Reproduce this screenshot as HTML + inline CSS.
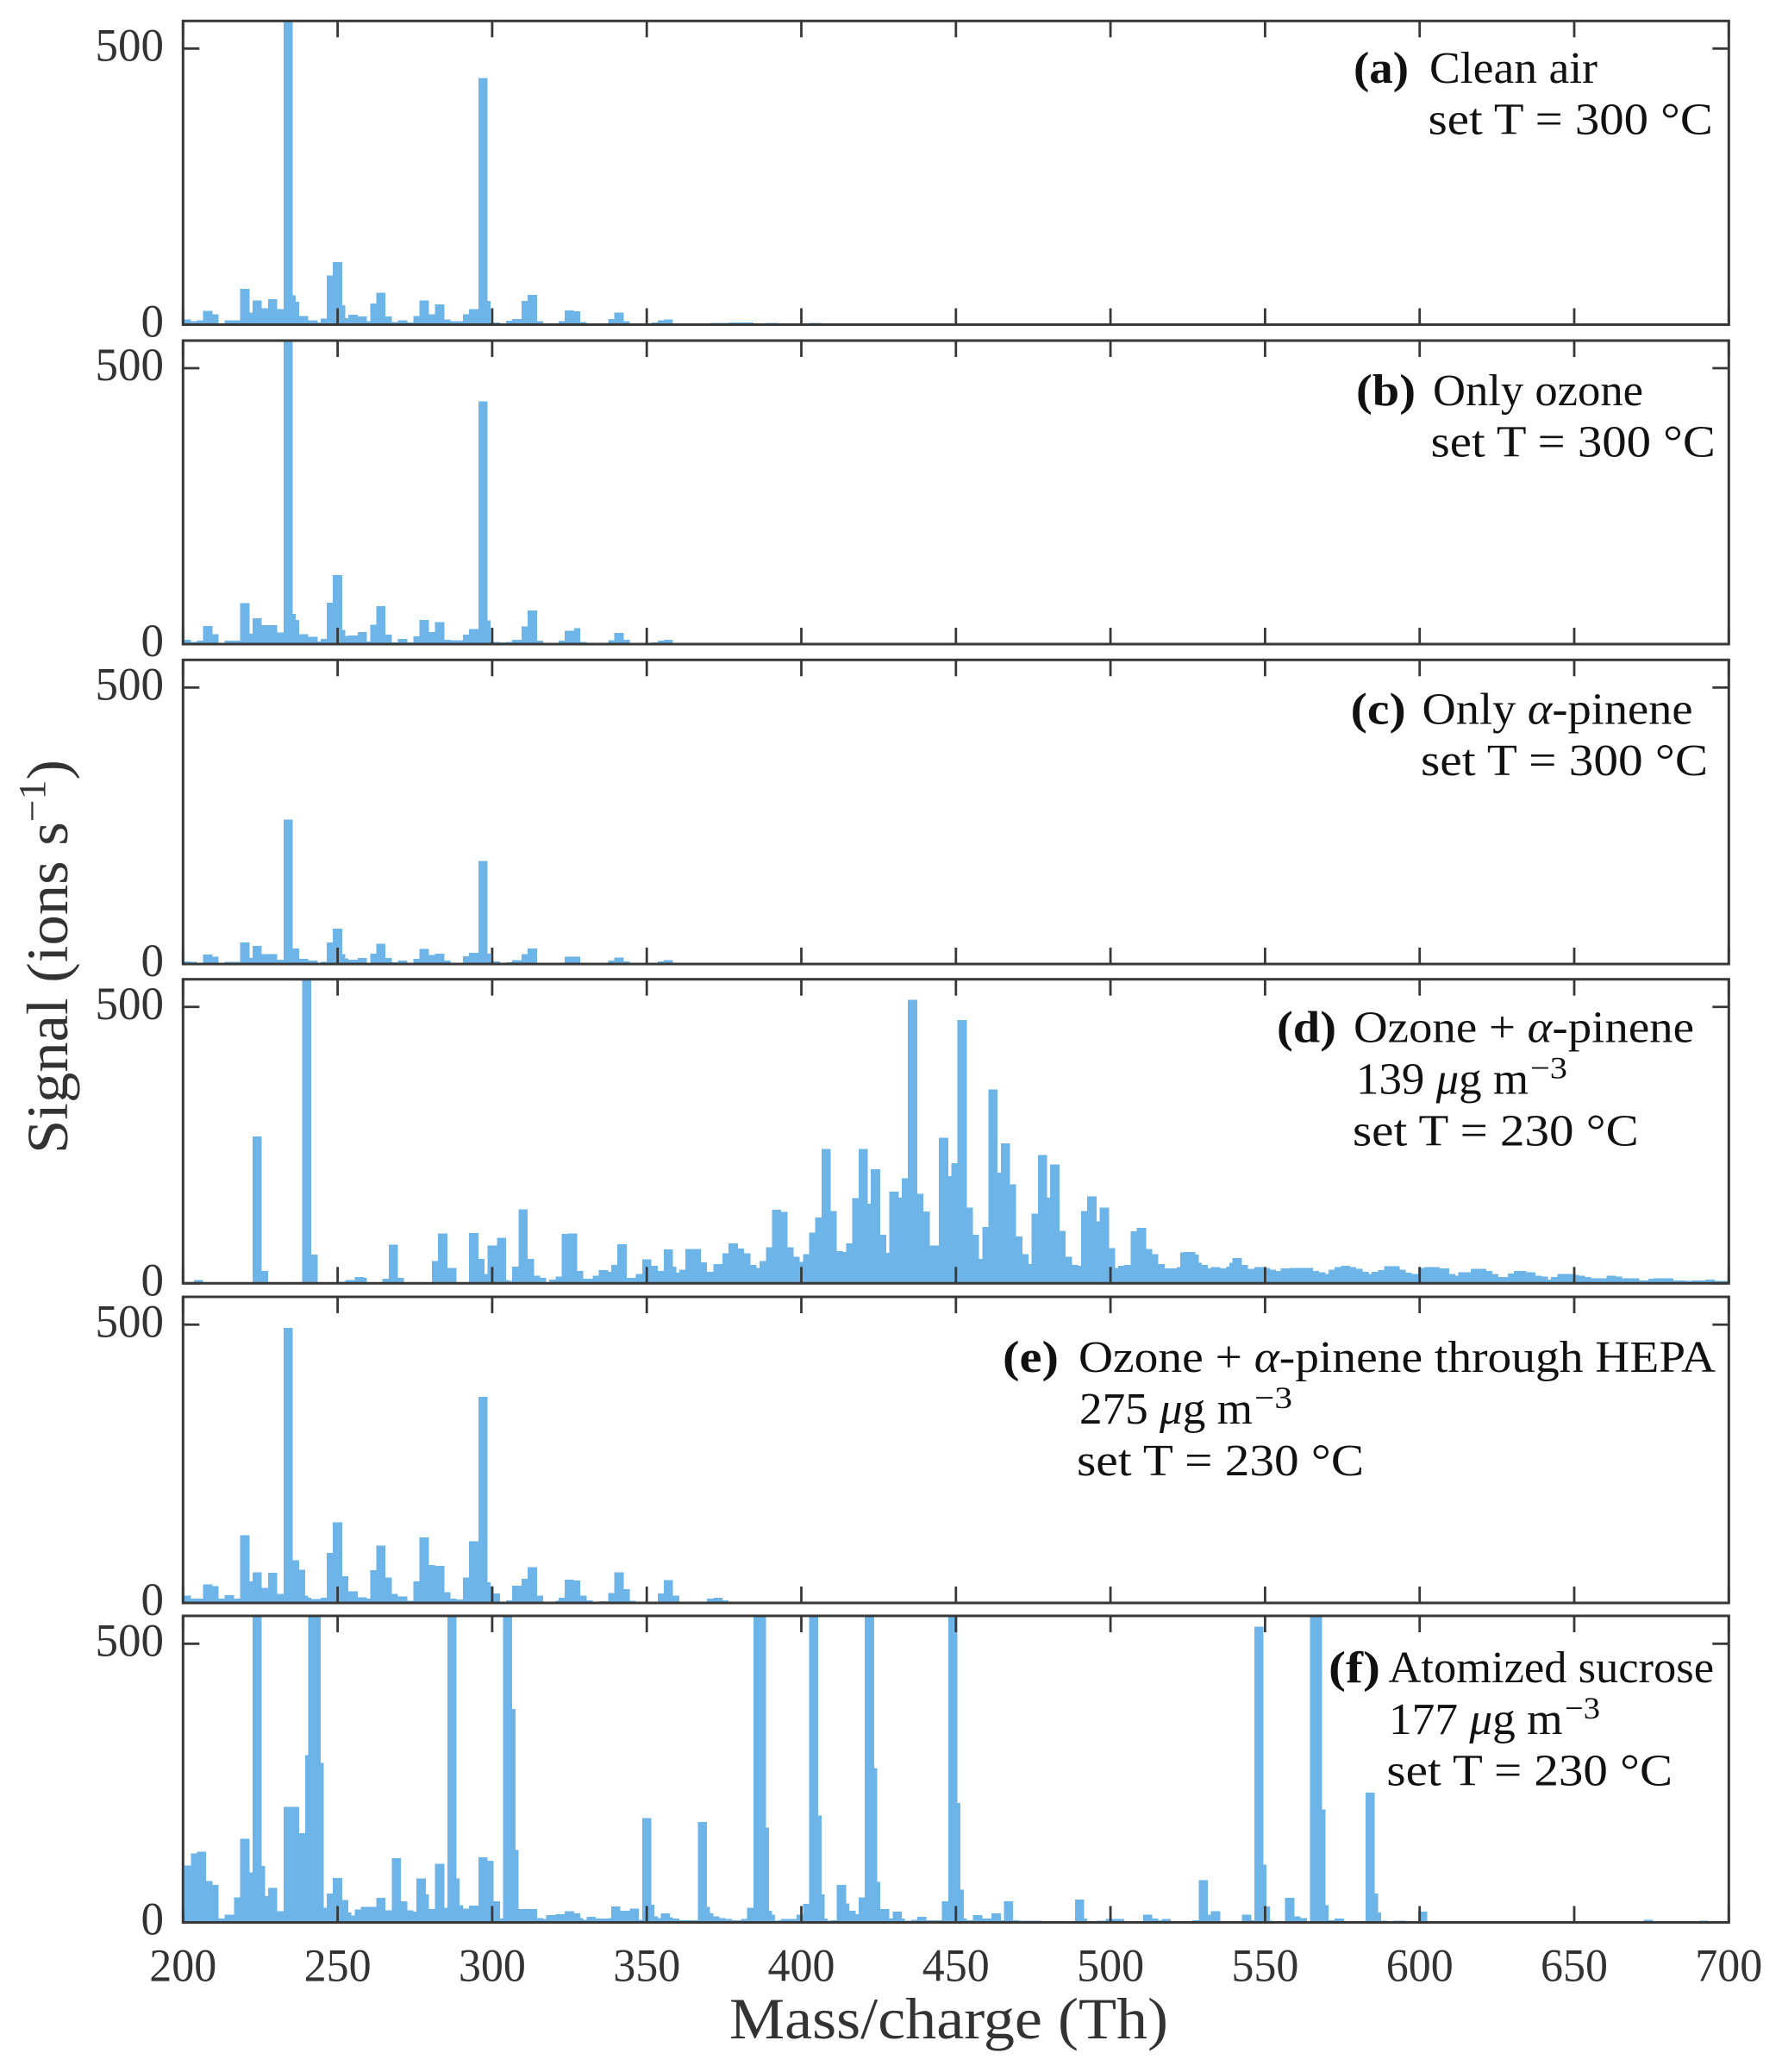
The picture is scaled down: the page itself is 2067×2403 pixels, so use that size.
<!DOCTYPE html>
<html lang="en">
<head>
<meta charset="utf-8">
<title>Mass spectra panels</title>
<style>
html,body{margin:0;padding:0;background:#fff;}
svg{display:block;}
text{font-family:"Liberation Serif","DejaVu Serif",serif;}
.note{font-size:52px;fill:#111;}
.sup{font-size:36px;fill:#111;}
.axis-title{font-size:68px;fill:#333;}
.tick-label{font-size:54px;fill:#333;}
</style>
</head>
<body>
<svg id="figure" xmlns="http://www.w3.org/2000/svg" width="2067" height="2403" viewBox="0 0 2067 2403">
<rect width="2067" height="2403" fill="#fff"/>
<g id="panels"></g>

<text class="axis-title" x="846" y="2364" textLength="509" lengthAdjust="spacingAndGlyphs">Mass/charge (Th)</text>
<text class="axis-title" transform="translate(78,1338) rotate(-90)" textLength="457" lengthAdjust="spacingAndGlyphs">Signal (ions s<tspan font-size="44" dy="-26">−1</tspan><tspan dy="26">)</tspan></text>

<g>
<text class="note" font-weight="bold" x="1570" y="96" textLength="64" lengthAdjust="spacingAndGlyphs">(a)</text>
<text class="note" x="1658" y="96" textLength="195" lengthAdjust="spacingAndGlyphs">Clean air</text>
<text class="note" x="1656.7" y="155.7" textLength="330" lengthAdjust="spacingAndGlyphs">set T = 300 °C</text>
</g>
<g>
<text class="note" font-weight="bold" x="1573" y="470" textLength="69" lengthAdjust="spacingAndGlyphs">(b)</text>
<text class="note" x="1662" y="470" textLength="244" lengthAdjust="spacingAndGlyphs">Only ozone</text>
<text class="note" x="1659.7" y="529.5" textLength="330" lengthAdjust="spacingAndGlyphs">set T = 300 °C</text>
</g>
<g>
<text class="note" font-weight="bold" x="1566.7" y="839.5" textLength="64" lengthAdjust="spacingAndGlyphs">(c)</text>
<text class="note" x="1649.5" y="839.5" textLength="314" lengthAdjust="spacingAndGlyphs">Only <tspan font-style="italic">α</tspan>-pinene</text>
<text class="note" x="1648" y="899" textLength="333" lengthAdjust="spacingAndGlyphs">set T = 300 °C</text>
</g>
<g>
<text class="note" font-weight="bold" x="1481" y="1208.3" textLength="69" lengthAdjust="spacingAndGlyphs">(d)</text>
<text class="note" x="1570" y="1208.3" textLength="395" lengthAdjust="spacingAndGlyphs">Ozone + <tspan font-style="italic">α</tspan>-pinene</text>
<text class="note" x="1573" y="1268.3" textLength="200" lengthAdjust="spacingAndGlyphs">139 <tspan font-style="italic">μ</tspan>g m</text>
<text class="sup" x="1775" y="1250.5" textLength="43" lengthAdjust="spacingAndGlyphs">−3</text>
<text class="note" x="1569" y="1328.3" textLength="331.6" lengthAdjust="spacingAndGlyphs">set T = 230 °C</text>
</g>
<g>
<text class="note" font-weight="bold" x="1163" y="1591" textLength="65" lengthAdjust="spacingAndGlyphs">(e)</text>
<text class="note" x="1251" y="1591" textLength="739" lengthAdjust="spacingAndGlyphs">Ozone + <tspan font-style="italic">α</tspan>-pinene through HEPA</text>
<text class="note" x="1252" y="1651" textLength="201" lengthAdjust="spacingAndGlyphs">275 <tspan font-style="italic">μ</tspan>g m</text>
<text class="sup" x="1455" y="1633" textLength="44" lengthAdjust="spacingAndGlyphs">−3</text>
<text class="note" x="1249" y="1711" textLength="333" lengthAdjust="spacingAndGlyphs">set T = 230 °C</text>
</g>
<g>
<text class="note" font-weight="bold" x="1541" y="1951" textLength="60" lengthAdjust="spacingAndGlyphs">(f)</text>
<text class="note" x="1610.5" y="1951" textLength="377.5" lengthAdjust="spacingAndGlyphs">Atomized sucrose</text>
<text class="note" x="1611" y="2011" textLength="201.6" lengthAdjust="spacingAndGlyphs">177 <tspan font-style="italic">μ</tspan>g m</text>
<text class="sup" x="1815" y="1993" textLength="41" lengthAdjust="spacingAndGlyphs">−3</text>
<text class="note" x="1608.4" y="2070.7" textLength="331.6" lengthAdjust="spacingAndGlyphs">set T = 230 °C</text>
</g>
</svg>

<script>
// ---- chart data (bin upper edges in Th, signal in ions/s) ----
const xTickLabels = [200,250,300,350,400,450,500,550,600,650,700];
const yTickLabels = [0,500];
const panelIds = ['a','b','c','d','e','f'];

const cleanEdges = [
202.5,204.5,206.5,209.5,211.5,213.5,218.5,221.5,222.5,225.5,
227.5,230.5,232.5,235.5,236.5,237.5,240.5,243.5,244.5,246.5,
248.5,251.5,252.5,253.5,256.5,259.5,260.5,262.5,265.5,267.5,
269.5,272.5,274.5,276.5,279.5,281.5,284.5,286.5,290.5,292.5,
295.5,298.5,299.5,302.5,304.5,306.5,309.5,311.5,314.5,316.5,
321.5,323.5,326.5,328.5,330.5,337.5,339.5,342.5,344.5,351.5,
353.5,355.5,358.5,370.5,376.5,384.5,388.5,392.5,402.5,406.5,
700];
const signalA = [
9,6,8,25,19,0,8,65,22,44,
30,46,28,600,53,41,16,8,4,11,
89,113,35,12,18,15,6,38,58,15,
5,8,4,16,44,19,37,9,6,19,
28,447,43,4,2,7,10,43,54,6,
2,6,26,24,5,2,10,22,6,2,
4,8,9,1,3,4,2,3,1,3,
0.5];
const signalB = [
8,4,6,33,18,0,6,74,19,47,
34,34,21,600,55,44,18,13,5,9,
75,125,26,15,16,22,5,35,69,17,
3,9,3,14,44,22,40,8,7,17,
27,440,43,4,3,4,8,32,61,6,
2,6,24,29,4,2,7,20,8,1,
3,6,8,0.5,0.5,0.5,0.5,0.5,0.5,0.5,
0.5];
const signalC = [
5,4,0.5,17,13,0.5,4,39,11,33,
18,18,8,261,28,28,9,6,0.5,4,
39,64,18,10,8,11,2,19,37,11,
3,6,2,9,27,16,19,6,2,14,
20,186,19,5,0.5,3,7,18,28,1,
1,1,13,13,0.5,0.5,6,12,5,0.5,
2,5,7,0.5,0.5,0.5,0.5,0.5,0.5,0.5,
0.5];
const edgesD = [
203.5,206.5,217.5,220.5,222.5,225.5,227.5,238.5,241.5,243.5,
250.5,252.5,255.5,258.5,259.5,264.5,266.5,269.5,271.5,280.5,
282.5,285.5,288.5,292.5,295.5,297.5,298.5,301.5,304.5,305.5,
306.5,308.5,311.5,313.5,315.5,317.5,318.5,320.5,322.5,324.5,
327.5,329.5,332.5,334.5,337.5,338.5,340.5,343.5,346.5,348.5,
351.5,353.5,355.5,358.5,359.5,360.5,362.5,367.5,369.5,371.5,
374.5,376.5,379.5,381.5,383.5,385.5,386.5,388.5,390.5,393.5,
395.5,397.5,399.5,400.5,402.5,404.5,406.5,409.5,411.5,413.5,
414.5,416.5,418.5,421.5,422.5,425.5,427.5,428.5,431.5,432.5,
434.5,437.5,439.5,441.5,444.5,447.5,448.5,450.5,453.5,455.5,
457.5,458.5,460.5,463.5,464.5,467.5,469.5,471.5,473.5,474.5,
476.5,479.5,480.5,483.5,485.5,487.5,489.5,490.5,492.5,495.5,
496.5,499.5,501.5,502.5,504.5,506.5,508.5,511.5,513.5,515.5,
517.5,521.5,522.5,523.5,527.5,528.5,529.5,531.5,532.5,535.5,
537.5,538.5,539.5,542.5,544.5,546.5,550,551.5,553.5,555,
558,565.5,567.5,569.5,570.5,572.5,574.5,577.5,579.5,581.5,
583.5,584.5,586.5,588.5,593.5,595.5,597.5,599.5,601.5,606.5,
609.5,611.5,612.5,616.5,621.5,623.5,625.5,628.5,630.5,634.5,
637.5,639.5,641.5,642.5,644.5,649.5,651.5,653.5,655.5,660.5,
663.5,665.5,671,674,675.5,682,686,688,692.5,695.5,700];
const signalD = [
0.5,6,0.5,2,0.5,266,22,0.5,600,52,
0.5,3,6,11,10,0.5,8,70,10,0.5,
40,90,28,0.5,91,44,17,68,82,6,
4,30,134,44,14,10,2,7,12,89,
90,22,8,14,24,21,33,71,10,17,
43,32,22,61,30,19,25,62,38,21,
35,54,72,63,54,33,28,40,65,133,
129,65,48,39,53,92,119,243,131,58,
57,72,154,243,144,206,88,55,166,155,
190,513,162,130,68,263,194,217,476,137,
88,44,102,351,200,253,179,85,53,35,
126,232,155,215,95,48,33,32,131,157,
112,137,64,28,32,33,94,100,62,53,
35,27,29,56,57,52,37,33,27,29,
27,30,37,46,33,26,29,28,25,22,
27,28,22,20,17,25,29,32,29,26,
21,17,21,24,31,25,19,17,28,29,
27,17,14,20,26,22,17,11,18,22,
20,14,12,7,11,17,15,14,11,9,
14,12,9,5,8,9,5,4,5,7,4];
const edgesE = [
202.5,206.5,209.5,211.5,213.5,216.5,218.5,221.5,222.5,225.5,
227.5,230.5,232.5,235.5,237.5,239.5,240.5,241.5,244.5,246.5,
248.5,251.5,253.5,256.5,259.5,260.5,262.5,265.5,267.5,269.5,
272.5,274.5,276.5,279.5,281.5,284.5,286.5,288.5,290.5,292.5,
295.5,298.5,299.5,300.5,302.5,304.5,306.5,309.5,311.5,314.5,
316.5,320.5,321.5,323.5,326.5,328.5,330.5,332.5,334.5,337.5,
339.5,342.5,344.5,346.5,351.5,353.5,355.5,358.5,360.5,369.5,
371.5,374.5,376.5,700];
const signalE = [
13,8,33,30,8,14,8,122,39,55,
27,54,16,494,77,60,13,9,7,9,
90,145,48,21,10,8,59,103,46,16,
12,4,39,118,68,67,19,8,6,46,
111,370,37,30,17,0.5,5,31,43,64,
13,1,4,9,42,40,13,5,1,3,
18,55,25,4,0.5,1,17,41,13,0.5,
8,9,5,0.3];
const edgesF = [
200.5,202.5,204.5,207.5,209.5,211.5,213.5,216.5,218.5,221.5,
222.5,225.5,226.5,227.5,230.5,232.5,237.5,239.5,240.5,244.5,
245.5,246.5,248.5,251.5,253.5,254.5,255.5,257.5,262.5,265.5,
267.5,270.5,272.5,274.5,275.5,278.5,279.5,281.5,284.5,285.5,
288.5,289.5,290.5,292.5,295.5,298.5,300.5,302.5,303.5,306.5,
307.5,308.5,314.5,316.5,317.5,320.5,323.5,326.5,328.5,329.5,
330.5,333.5,337.5,338.5,341.5,344.5,347.5,348.5,351.5,352.5,
353.5,354.5,357.5,358.5,360.5,366.5,369.5,370.5,371.5,373.5,
375.5,377.5,380.5,382.5,384.5,388.5,389.5,390.5,391.5,392.5,
393.5,398.5,400.5,402.5,405.5,406.5,407.5,408.5,409.5,411.5,
414.5,415.5,417.5,418.5,420.5,423.5,424.5,425.5,428.5,429.5,
432.5,433.5,435.5,437.5,440.5,445.5,447.5,450.5,451.5,452.5,
453.5,455.5,458.5,461.5,464.5,465.5,468.5,470.5,477.5,488.5,
491.5,492.5,495.5,498.5,504.5,510.5,513.5,515.5,516.5,519.5,
526.5,528.5,531.5,532.5,535.5,542.5,545.5,546.5,549.5,550.5,
551.5,552.5,556.5,559.5,561.5,563.5,564.5,568.5,569.5,570.5,
572.5,575.5,582.5,585.5,586.5,587.5,589.5,591.5,595.5,599.5,
602.5,607.5,620.5,629.5,632.5,672.5,675.5,690.5,693.5,700];
const signalF = [
18,102,124,127,74,67,7,14,45,150,
90,600,101,47,62,20,207,160,300,600,
286,26,52,80,40,18,12,23,28,44,
22,115,38,22,19,79,50,24,105,26,
600,79,31,25,30,117,111,38,7,600,
383,130,24,8,6,13,15,20,16,8,
5,10,7,8,29,21,25,5,187,32,
11,8,16,9,7,4,180,28,16,11,
8,6,4,6,26,600,170,21,14,3,
4,6,14,33,600,192,50,7,3,4,
67,34,21,15,45,600,277,73,24,7,
19,7,3,5,10,4,38,600,214,59,
7,4,13,7,16,4,38,4,3,2,
41,7,2,3,6,2,14,7,4,6,
2,4,76,14,20,1,14,4,531,104,
29,3,1,44,11,8,1,600,203,31,
4,7,1,233,52,18,3,2,3,1,
19,2,1,0.5,2,0.5,5,0.5,3,0.3];

const allEdges = [cleanEdges, cleanEdges, cleanEdges, edgesD, edgesE, edgesF];
const allSignals = [signalA, signalB, signalC, signalD, signalE, signalF];

// ---- layout ----
const NS = 'http://www.w3.org/2000/svg';
const plotLeft = 212.3, plotRight = 2005.3;
const massMin = 200, massMax = 700, signalMax = 550;
const panelTops = [24.3, 395, 765.3, 1135.7, 1504, 1874];
const panelBottoms = [376.5, 747, 1118, 1488.3, 1859, 2229.5];
const barColor = '#6db5e8', axisColor = '#383838', tickLen = 19;

function xScale(mass) {
  return plotLeft + (mass - massMin) / (massMax - massMin) * (plotRight - plotLeft);
}
function yScaleFor(p) {
  return function (value) {
    return panelBottoms[p] - value / signalMax * (panelBottoms[p] - panelTops[p]);
  };
}
function svgEl(tag, attrs, parent) {
  const el = document.createElementNS(NS, tag);
  for (const k in attrs) el.setAttribute(k, attrs[k]);
  parent.appendChild(el);
  return el;
}

const root = document.getElementById('panels');
panelIds.forEach(function (id, p) {
  const yScale = yScaleFor(p);
  const top = panelTops[p], bottom = panelBottoms[p];

  const group = svgEl('g', {}, root);
  
  

  const clip = svgEl('clipPath', { id: 'clip-' + id }, group);
  svgEl('rect', { x: plotLeft, y: top, width: plotRight - plotLeft, height: bottom - top }, clip);

  const bars = svgEl('g', { 'clip-path': 'url(#clip-' + id + ')', 'shape-rendering': 'crispEdges', fill: barColor }, group);
  
  

  const edges = allEdges[p], signal = allSignals[p];
  let lower = massMin;
  for (let i = 0; i < edges.length; i++) {
    const upper = edges[i];
    const el = svgEl('rect', {
      x: xScale(lower),
      y: yScale(signal[i]),
      width: xScale(upper) - xScale(lower),
      height: yScale(0) - yScale(signal[i])
    }, bars);
    
    
    lower = upper;
  }

  const frame = svgEl('rect', { x: plotLeft, y: top, width: plotRight - plotLeft, height: bottom - top, fill: 'none', stroke: axisColor, 'stroke-width': 3 }, group);
  
  

  xTickLabels.forEach(function (tick) {
    const x = xScale(tick);
    const topTick = svgEl('line', { x1: x, x2: x, y1: top, y2: top + tickLen, stroke: axisColor, 'stroke-width': 2.8 }, group);
    
    
    const bottomTick = svgEl('line', { x1: x, x2: x, y1: bottom, y2: bottom - tickLen, stroke: axisColor, 'stroke-width': 2.8 }, group);
    
    
  });

  yTickLabels.forEach(function (tick) {
    const y = yScale(tick);
    const leftTick = svgEl('line', { x1: plotLeft, x2: plotLeft + tickLen, y1: y, y2: y, stroke: axisColor, 'stroke-width': 2.8 }, group);
    
    
    const rightTick = svgEl('line', { x1: plotRight, x2: plotRight - tickLen, y1: y, y2: y, stroke: axisColor, 'stroke-width': 2.8 }, group);
    
    

    const label = svgEl('text', { x: 190, y: y + 14, 'text-anchor': 'end', class: 'tick-label' }, group);
    label.textContent = String(tick);
    label.setAttribute('textLength', String(tick).length * 26.5);
    label.setAttribute('lengthAdjust', 'spacingAndGlyphs');
    
    
  });
});

const xLabels = svgEl('g', {}, root);


xTickLabels.forEach(function (tick) {
  const label = svgEl('text', { x: xScale(tick), y: 2297.3, 'text-anchor': 'middle', class: 'tick-label' }, xLabels);
  label.textContent = String(tick);
  label.setAttribute('textLength', 78);
  label.setAttribute('lengthAdjust', 'spacingAndGlyphs');
  
  
});
</script>
</body>
</html>
